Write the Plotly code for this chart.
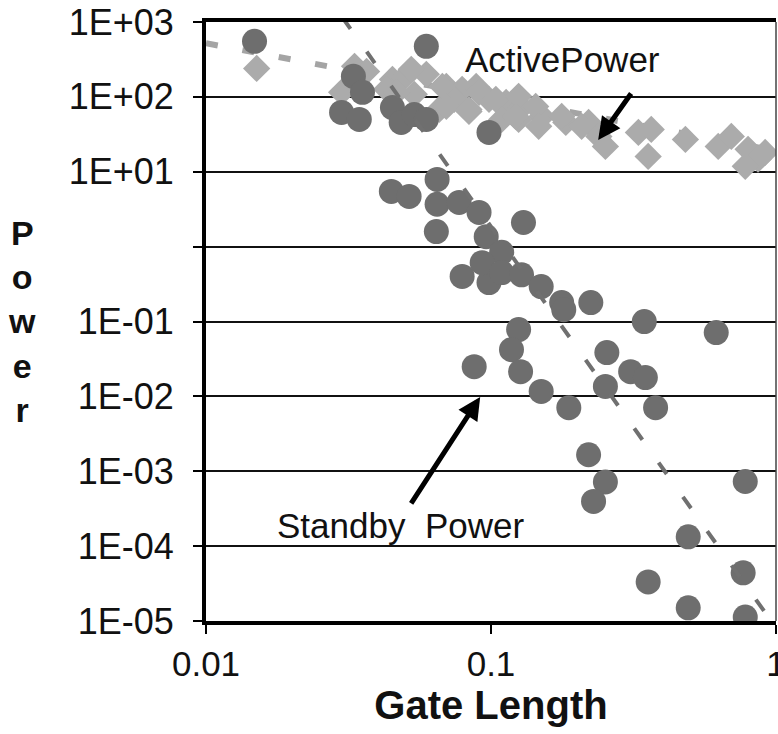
import numpy as np
import plotly.graph_objects as go

# ---- data ----
standby_len = [0.0148, 0.0329, 0.0354, 0.0299, 0.0345, 0.0593, 0.0451, 0.0484, 0.0538, 0.0593,
               0.0984, 0.0447, 0.0516, 0.0647, 0.0647, 0.0643, 0.0773, 0.0908, 0.130, 0.0962,
               0.109, 0.0792, 0.0984, 0.0931, 0.109, 0.128, 0.150, 0.177, 0.224, 0.180,
               0.345, 0.617, 0.125, 0.118, 0.127, 0.0873, 0.150, 0.1875, 0.255, 0.252,
               0.309, 0.348, 0.378, 0.220, 0.252, 0.229, 0.780, 0.492, 0.356, 0.767,
               0.492, 0.780]
standby_pow = [552, 188, 115, 62, 50, 473, 72, 45.6, 58, 50,
               33.5, 5.46, 4.68, 7.89, 3.68, 1.59, 3.89, 2.86, 2.10, 1.36,
               0.84, 0.40, 0.331, 0.61, 0.45, 0.42, 0.293, 0.179, 0.179, 0.144,
               0.0998, 0.0711, 0.078, 0.042, 0.0214, 0.0249, 0.01164, 0.00706, 0.0384, 0.0136,
               0.0214, 0.0178, 0.00706, 0.00166, 0.00072, 0.000395, 0.00073, 0.000133, 3.33e-5, 4.4e-5,
               1.5e-5, 1.13e-5]

active_len = [0.01506, 0.0332, 0.0366, 0.0299, 0.0451, 0.0430, 0.0496, 0.0593, 0.0697, 0.0792,
              0.0887, 0.0984, 0.113, 0.128, 0.151, 0.183, 0.220, 0.239, 0.252, 0.329,
              0.365, 0.356, 0.481, 0.627, 0.697, 0.798, 0.865, 0.780, 0.916, 0.0538,
              0.0658, 0.0837, 0.0743, 0.0525, 0.125,
              0.0466, 0.0675, 0.0697, 0.0837, 0.0908, 0.104, 0.109, 0.125, 0.122, 0.1435,
              0.147, 0.177, 0.208]
active_pow = [240, 256, 219, 115, 171, 126, 182, 200, 138, 126,
              138, 92.7, 84.3, 72.4, 54.8, 45.6, 45.6, 29.6, 21.8, 33.5,
              36.8, 16.0, 27.0, 21.8, 29.6, 19.9, 14.7, 11.8, 18.1, 108,
              68, 64, 93, 233, 50,
              115, 138, 74.6, 68, 115, 92.7, 50, 101.6, 54.8, 74.6,
              40.4, 54.8, 40.4]

active_trend_len = [0.01, 1.0]
active_trend_pow = [520, 19]
standby_trend_len = [0.0301, 1.0]
standby_trend_pow = [1150, 8.1e-6]

x_tickvals = [0.01, 0.1, 1]
x_ticktext = ["0.01", "0.1", "1"]
y_tickvals = [1e-5, 1e-4, 1e-3, 1e-2, 1e-1, 1e0, 1e1, 1e2, 1e3]
y_ticktext = ["1E-05", "1E-04", "1E-03", "1E-02", "1E-01", "", "1E+01", "1E+02", "1E+03"]

FONT = "Arial, Liberation Sans, sans-serif"

fig = go.Figure()

fig.add_trace(go.Scatter(
    x=active_trend_len, y=active_trend_pow, mode="lines",
    line=dict(color="#a4a4a4", width=6, dash="12px,25px"), showlegend=False, hoverinfo="skip"))
fig.add_trace(go.Scatter(
    x=active_len, y=active_pow, mode="markers",
    marker=dict(symbol="diamond", size=21, color="#ababab", line=dict(width=0)),
    showlegend=False, name="Active Power"))
fig.add_trace(go.Scatter(
    x=standby_len, y=standby_pow, mode="markers",
    marker=dict(symbol="circle", size=25, color="#6e6e6e", line=dict(width=0)),
    showlegend=False, name="Standby Power"))
fig.add_trace(go.Scatter(
    x=standby_trend_len, y=standby_trend_pow, mode="lines",
    line=dict(color="#707070", width=4, dash="14px,28px"), showlegend=False, hoverinfo="skip"))

fig.update_layout(
    width=778, height=734,
    margin=dict(l=206, r=2, t=22, b=113, autoexpand=False),
    paper_bgcolor="white", plot_bgcolor="white",
    font=dict(family=FONT, color="#111111"),
    xaxis=dict(
        type="log", range=[-2, 0], automargin=False,
        tickvals=x_tickvals, ticktext=x_ticktext,
        showgrid=False, zeroline=False,
        showline=True, linewidth=4, linecolor="black", mirror=True,
        ticks="outside", ticklen=9, tickwidth=2, tickcolor="black",
        tickfont=dict(size=35, family=FONT, color="#111111"),
        ticklabelstandoff=0, ticklabeloverflow="allow",
        title=dict(text="<b>Gate Length</b>", font=dict(size=40, family=FONT, color="#111111"),
                   standoff=8),
    ),
    yaxis=dict(
        type="log", range=[-5, 3], automargin=False,
        tickvals=y_tickvals, ticktext=y_ticktext,
        showgrid=True, gridcolor="#111111", gridwidth=1.5,
        zeroline=False,
        showline=True, linewidth=4, linecolor="black", mirror=False,
        ticks="outside", ticklen=9, tickwidth=2, tickcolor="black",
        tickfont=dict(size=36, family=FONT, color="#111111"),
        ticklabelstandoff=12, ticklabeloverflow="allow",
    ),
    shapes=[dict(type="line", xref="paper", yref="paper", x0=1, x1=1, y0=0, y1=1,
                 line=dict(color="#444444", width=1.5))],
    annotations=[
        dict(xref="paper", yref="paper", x=0.626, y=0.937, text="ActivePower",
             showarrow=False, font=dict(size=35, family=FONT, color="#111111"),
             xanchor="center", yanchor="middle"),
        dict(xref="paper", yref="paper", x=0.688, y=0.803, text="", showarrow=True,
             ax=34, ay=-48, arrowhead=2, arrowsize=0.9, arrowwidth=5, arrowcolor="black"),
        dict(xref="paper", yref="paper", x=0.342, y=0.160, text="Standby\u00a0 Power",
             showarrow=False, font=dict(size=35, family=FONT, color="#111111"),
             xanchor="center", yanchor="middle"),
        dict(xref="paper", yref="paper", x=0.481, y=0.374, text="", showarrow=True,
             ax=-70, ay=108, arrowhead=2, arrowsize=0.9, arrowwidth=5, arrowcolor="black"),
        dict(xref="paper", yref="paper", x=-0.323, y=0.50, text="<b>P<br>o<br>w<br>e<br>r</b>",
             showarrow=False, font=dict(size=34, family=FONT, color="#111111"),
             xanchor="center", yanchor="middle", align="center"),
    ],
)

fig.write_html("out.html", config={"displayModeBar": False},
               post_script="document.body.style.margin='0';document.body.style.overflow='hidden';")
